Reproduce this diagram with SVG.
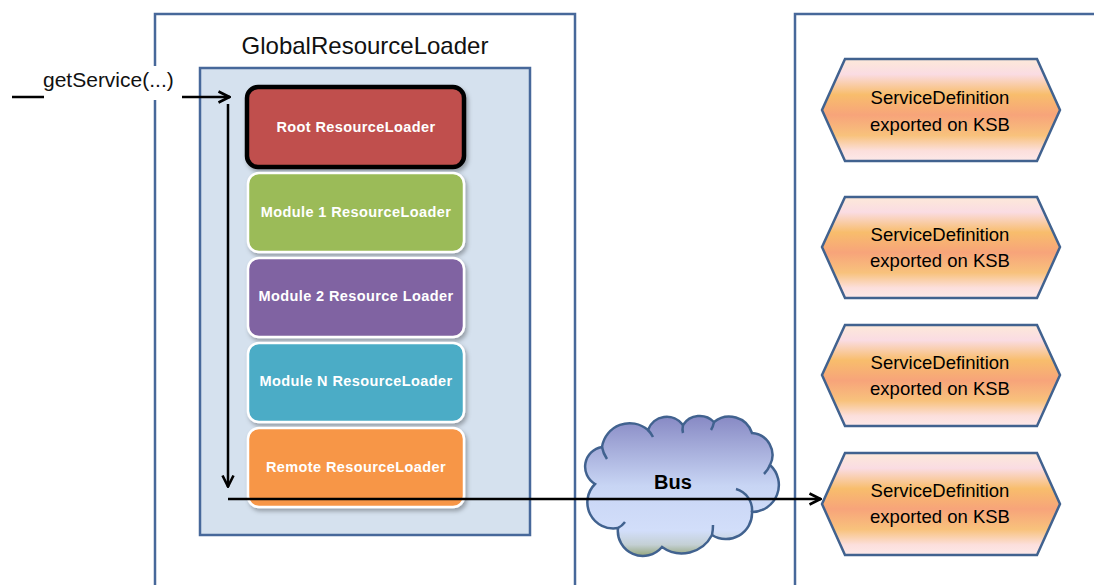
<svg xmlns="http://www.w3.org/2000/svg" width="1094" height="585" viewBox="0 0 1094 585">
<defs>
<style>
.frame{fill:#ffffff;stroke:#47689a;stroke-width:2.5}
.inner{fill:#d5e1ee;stroke:#47689a;stroke-width:2.5}
.loader{stroke:#ffffff;stroke-width:2.5;filter:url(#sh)}
.ltxt{font-family:"Liberation Sans",Arial,sans-serif;font-size:14.5px;font-weight:bold;fill:#ffffff;text-anchor:middle;letter-spacing:0.4px}
.hex{fill:url(#hexg);stroke:#41628f;stroke-width:2.5}
.htxt{font-family:"Liberation Sans",Arial,sans-serif;font-size:18.5px;fill:#000000;text-anchor:middle}
.conn{fill:none;stroke:#000000;stroke-width:2.5}
.curl{fill:none;stroke:#41628f;stroke-width:2.5}
.title{font-family:"Liberation Sans",Arial,sans-serif;font-size:24px;fill:#111111;text-anchor:middle}
</style>
<linearGradient id="hexg" x1="0" y1="0" x2="0" y2="1">
<stop offset="0" stop-color="#fde9d9"/>
<stop offset="0.15" stop-color="#fadce3"/>
<stop offset="0.35" stop-color="#f8bd6c"/>
<stop offset="0.55" stop-color="#f7a47a"/>
<stop offset="0.75" stop-color="#f8c27c"/>
<stop offset="0.9" stop-color="#fcdfdc"/>
<stop offset="1" stop-color="#fde9e9"/>
</linearGradient>
<linearGradient id="cloudg" x1="0" y1="0" x2="0" y2="1">
<stop offset="0" stop-color="#8789c4"/>
<stop offset="0.5" stop-color="#c8d5f4"/>
<stop offset="0.82" stop-color="#d2defa"/>
<stop offset="0.92" stop-color="#c4d0d4"/>
<stop offset="1" stop-color="#94a67c"/>
</linearGradient>
<filter id="sh" x="-10%" y="-10%" width="125%" height="130%">
<feDropShadow dx="2" dy="3" stdDeviation="2" flood-color="#000000" flood-opacity="0.3"/>
</filter>
<marker id="arr" viewBox="0 0 14 14" refX="13" refY="7" markerWidth="14" markerHeight="14" markerUnits="userSpaceOnUse" orient="auto">
<path d="M1.5,1.5 L12.5,7 L1.5,12.5" fill="none" stroke="#000000" stroke-width="2.6"/>
</marker>
</defs>
<rect width="1094" height="585" fill="#ffffff"/>

<g id="global-resource-loader">
<rect class="frame" x="155" y="14" width="420" height="600"/>
<text class="title" x="365" y="54">GlobalResourceLoader</text>
<rect class="inner" x="200" y="68" width="330" height="467"/>
</g>

<g id="ksb-registry">
<rect class="frame" x="795" y="14" width="400" height="600"/>
</g>

<g id="root-loader">
<rect x="247" y="87" width="217" height="80" rx="11" fill="#c0504d" stroke="#000000" stroke-width="4.5" filter="url(#sh)"/>
<text class="ltxt" x="356" y="132">Root ResourceLoader</text>
</g>
<g id="module1-loader">
<rect class="loader" x="248" y="173" width="216" height="79" rx="11" fill="#9bbb59"/>
<text class="ltxt" x="356" y="217">Module 1 ResourceLoader</text>
</g>
<g id="module2-loader">
<rect class="loader" x="248" y="258" width="216" height="79" rx="11" fill="#8064a2"/>
<text class="ltxt" x="356" y="301">Module 2 Resource Loader</text>
</g>
<g id="moduleN-loader">
<rect class="loader" x="248" y="343" width="216" height="79" rx="11" fill="#4bacc6"/>
<text class="ltxt" x="356" y="386">Module N ResourceLoader</text>
</g>
<g id="remote-loader">
<rect class="loader" x="248" y="428" width="216" height="79" rx="11" fill="#f79646"/>
<text class="ltxt" x="356" y="472">Remote ResourceLoader</text>
</g>

<g id="bus">
<path d="M595,484 A20 20 0 0 1 602,447 A28 28 0 0 1 648,430 A20 20 0 0 1 683,425 A20 20 0 0 1 714,422 A24 24 0 0 1 752,433 A22 22 0 0 1 770,465 A27 27 0 0 1 752,512 A26 26 0 0 1 712,535 A34 34 0 0 1 662,547 A25 25 0 0 1 618,528 A26 26 0 0 1 595,484 Z" fill="url(#cloudg)" stroke="#41628f" stroke-width="2.5"/>
<path class="curl" d="M602,447 Q603,453 607,459"/>
<path class="curl" d="M648,430 Q651,433 653,437"/>
<path class="curl" d="M683,425 Q682,430 683,433"/>
<path class="curl" d="M714,422 Q713,427 711,430"/>
<path class="curl" d="M770,465 Q768,470 764,474"/>
<path class="curl" d="M736,489 A22 22 0 0 1 752,512"/>
<path class="curl" d="M712,535 Q713,530 713,525"/>
<path class="curl" d="M618,528 Q622,526 625,522"/>
</g>

<g id="service-def-1">
<polygon class="hex" points="822,110 845,59 1037,59 1060,110 1037,161 845,161"/>
<text class="htxt" x="940" y="104">ServiceDefinition</text>
<text class="htxt" x="940" y="131">exported on KSB</text>
</g>
<g id="service-def-2">
<polygon class="hex" points="822,247 845,197 1037,197 1060,247 1037,298 845,298"/>
<text class="htxt" x="940" y="241">ServiceDefinition</text>
<text class="htxt" x="940" y="267">exported on KSB</text>
</g>
<g id="service-def-3">
<polygon class="hex" points="822,375 845,325 1037,325 1060,375 1037,426 845,426"/>
<text class="htxt" x="940" y="369">ServiceDefinition</text>
<text class="htxt" x="940" y="395">exported on KSB</text>
</g>
<g id="service-def-4">
<polygon class="hex" points="822,504 845,453 1037,453 1060,504 1037,555 845,555"/>
<text class="htxt" x="940" y="497">ServiceDefinition</text>
<text class="htxt" x="940" y="523">exported on KSB</text>
</g>

<g id="connectors">
<path class="conn" d="M12,97 L230,97" marker-end="url(#arr)"/>
<rect x="44" y="66" width="138" height="34" fill="#ffffff"/>
<text x="43" y="87" font-family="'Liberation Sans',Arial,sans-serif" font-size="21px" fill="#111111">getService(...)</text>
<path class="conn" d="M228,104 L228,487" marker-end="url(#arr)"/>
<path class="conn" d="M228,499 L821,499" marker-end="url(#arr)"/>
<text x="673" y="489" font-family="'Liberation Sans',Arial,sans-serif" font-size="20px" font-weight="bold" fill="#000000" text-anchor="middle">Bus</text>
</g>
</svg>
